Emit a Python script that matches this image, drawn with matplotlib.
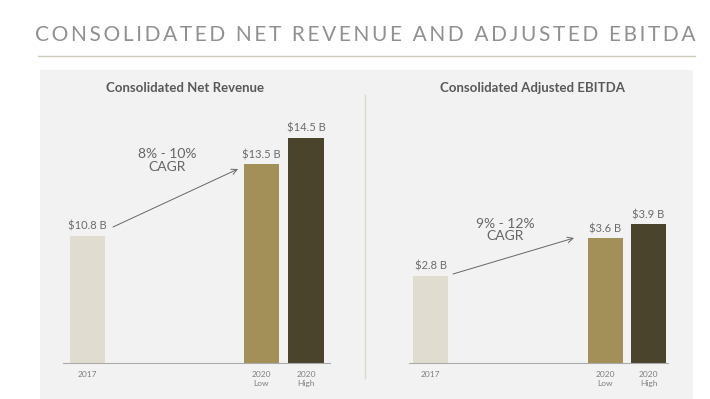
import matplotlib.pyplot as plt
from matplotlib.patches import Rectangle

# data
rev_labels = ["2017", "2020\nLow", "2020\nHigh"]
rev_values = [10.8, 13.5, 14.5]
rev_text = ["$10.8 B", "$13.5 B", "$14.5 B"]
rev_cagr = "8% - 10%\nCAGR"

ebitda_labels = ["2017", "2020\nLow", "2020\nHigh"]
ebitda_values = [2.8, 3.6, 3.9]
ebitda_text = ["$2.8 B", "$3.6 B", "$3.9 B"]
ebitda_cagr = "9% - 12%\nCAGR"

colors = ["#e0dcd0", "#a38f58", "#4a442c"]
W, H = 710, 399
plt.rcParams["font.family"] = ["Lato", "DejaVu Sans"]

fig = plt.figure(figsize=(W / 100, H / 100), dpi=100)
fig.patch.set_facecolor("white")


def fx(px):
    return px / W


def fy(py):
    return 1 - py / H


# background panel and lines
fig.patches.append(Rectangle((fx(40), 0), fx(693) - fx(40), fy(70), transform=fig.transFigure,
                             facecolor="#f2f2f2", edgecolor="none", zorder=-5))
fig.add_artist(plt.Line2D([fx(38), fx(695)], [fy(56), fy(56)], color="#cfcbbd", lw=1))
fig.add_artist(plt.Line2D([fx(365), fx(365)], [fy(95), fy(378)], color="#dcd8c8", lw=1))

title = "CONSOLIDATED NET REVENUE AND ADJUSTED EBITDA"
fig.text(fx(365), fy(35), "\u2009".join(title), ha="center", va="center", fontsize=15,
         color="#909090")


def panel(left, right, positions, values, labels, texts, ylim, heading, hx, cagr, cx, cy, a0, a1):
    ax = fig.add_axes([fx(left), fy(363), fx(right) - fx(left), fy(110) - fy(363)])
    ax.patch.set_alpha(0)
    ax.bar(positions, values, width=0.8, color=colors, zorder=2)
    ax.set_ylim(*ylim)
    ax.set_xlim(-0.5, 5.5)
    for s in ["top", "right", "left"]:
        ax.spines[s].set_visible(False)
    ax.spines["bottom"].set_color("#aaaaaa")
    ax.spines["bottom"].set_linewidth(0.8)
    ax.set_yticks([])
    ax.set_xticks(positions)
    ax.set_xticklabels(labels, fontsize=6, color="#808080", linespacing=1.2)
    ax.tick_params(axis="x", length=0, pad=6)
    for p, v, t in zip(positions, values, texts):
        ax.annotate(t, (p, v), xytext=(0, 3), textcoords="offset points", ha="center",
                    va="bottom", fontsize=8, color="#6b6b6b")
    fig.text(fx(hx), fy(88), heading, ha="center", va="center", fontsize=9.5,
             fontweight="bold", color="#595959")
    fig.text(fx(cx), fy(cy), cagr, ha="center", va="center", fontsize=10,
             color="#666666", linespacing=1.1)
    fig.add_artist(plt.Annotation("", xy=(fx(a1[0]), fy(a1[1])), xytext=(fx(a0[0]), fy(a0[1])),
                                  xycoords="figure fraction", textcoords="figure fraction",
                                  arrowprops=dict(arrowstyle="->", color="#666666", lw=0.7,
                                                  shrinkA=0, shrinkB=0)))
    return ax


panel(63, 330, [0.05, 3.96, 4.96], rev_values, rev_labels, rev_text, (6.0, 15.55),
      "Consolidated Net Revenue", 185, rev_cagr, 167, 161, (113, 227), (238, 169))
panel(409, 668, [0.0, 4.05, 5.05], ebitda_values, ebitda_labels, ebitda_text, (0.95, 6.33),
      "Consolidated Adjusted EBITDA", 532, ebitda_cagr, 505, 230, (453, 274), (574, 238))

fig.savefig("out.png", dpi=100)
